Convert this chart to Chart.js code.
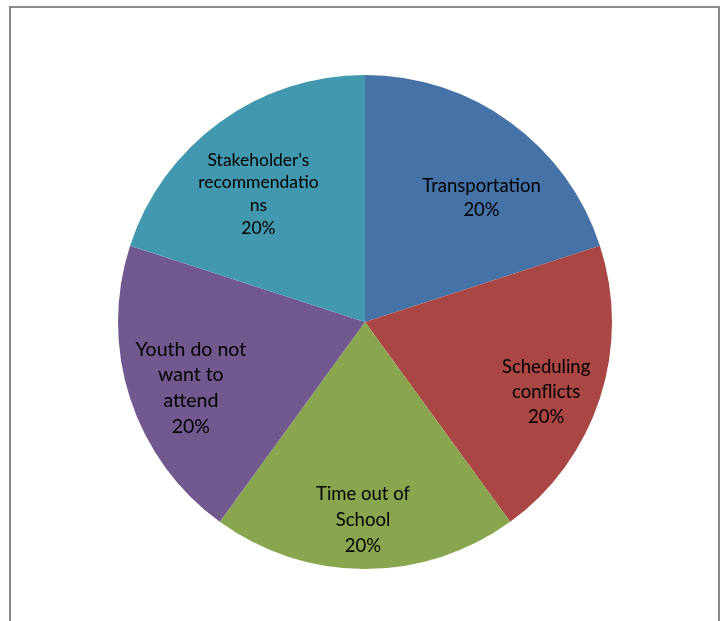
<!DOCTYPE html>
<html>
<head>
<meta charset="utf-8">
<script src="https://cdn.jsdelivr.net/npm/chart.js@4"></script>
<style>
  html, body { margin: 0; padding: 0; background: #ffffff; }
  body { width: 722px; height: 621px; position: relative; overflow: hidden; }
  #frame { position: absolute; left: 9px; top: 6px; width: 707px; height: 640px; border: 2px solid #8a8a8a; border-bottom: none; background: #fff; }
  #wrap { position: absolute; left: 0; top: 0; width: 722px; height: 621px; }
</style>
</head>
<body>
<div id="frame"></div>
<div id="wrap"><canvas id="c" width="722" height="621"></canvas></div>
<script>
const categories = [
  "Transportation",
  "Scheduling\nconflicts",
  "Time out of\nSchool",
  "Youth do not\nwant to\nattend",
  "Stakeholder's\nrecommendatio\nns"
];
const values = [20, 20, 20, 20, 20];
const colors = ["#4572A7", "#AA4643", "#89A54E", "#71588F", "#4198AF"];

const labelPlugin = {
  id: 'sliceLabels',
  afterDatasetsDraw(chart, args, opts) {
    const ctx = chart.ctx;
    const meta = chart.getDatasetMeta(0);
    const data = chart.data.datasets[0].data;
    const total = data.reduce((a, b) => a + b, 0);
    ctx.save();
    ctx.fillStyle = opts.color;
    ctx.textAlign = 'center';
    ctx.textBaseline = 'middle';
    meta.data.forEach((arc, i) => {
      const p = arc.getProps(['x', 'y', 'startAngle', 'endAngle', 'outerRadius'], true);
      const mid = (p.startAngle + p.endAngle) / 2;
      const off = opts.offsets[i] || [0, 0];
      const cx = p.x + Math.cos(mid) * p.outerRadius * opts.fraction + off[0];
      const cy = p.y + Math.sin(mid) * p.outerRadius * opts.fraction + off[1];
      const lines = chart.data.labels[i].split('\n');
      lines.push(Math.round(data[i] / total * 100) + '%');
      const fs = opts.sizes[i];
      const lh = opts.lineHeights[i];
      ctx.font = fs + 'px Lato, "Open Sans", sans-serif';
      const startY = cy - (lines.length - 1) * lh / 2;
      lines.forEach((t, k) => ctx.fillText(t, cx, startY + k * lh));
    });
    ctx.restore();
  }
};

new Chart(document.getElementById('c'), {
  type: 'pie',
  data: {
    labels: categories,
    datasets: [{
      data: values,
      backgroundColor: colors,
      borderWidth: 0
    }]
  },
  options: {
    responsive: false,
    animation: false,
    layout: { padding: { left: 118, right: 110, top: 75, bottom: 52 } },
    plugins: {
      legend: { display: false },
      tooltip: { enabled: false },
      sliceLabels: {
        color: '#000000',
        fraction: 0.72,
        offsets: [[12, 20], [12, 15], [-2, 20], [-5, 11], [-2, 16]],
        sizes: [18.5, 18.5, 18.5, 19.5, 17.5],
        lineHeights: [24, 25, 26, 25.7, 22.7]
      }
    }
  },
  plugins: [labelPlugin]
});
</script>
</body>
</html>
